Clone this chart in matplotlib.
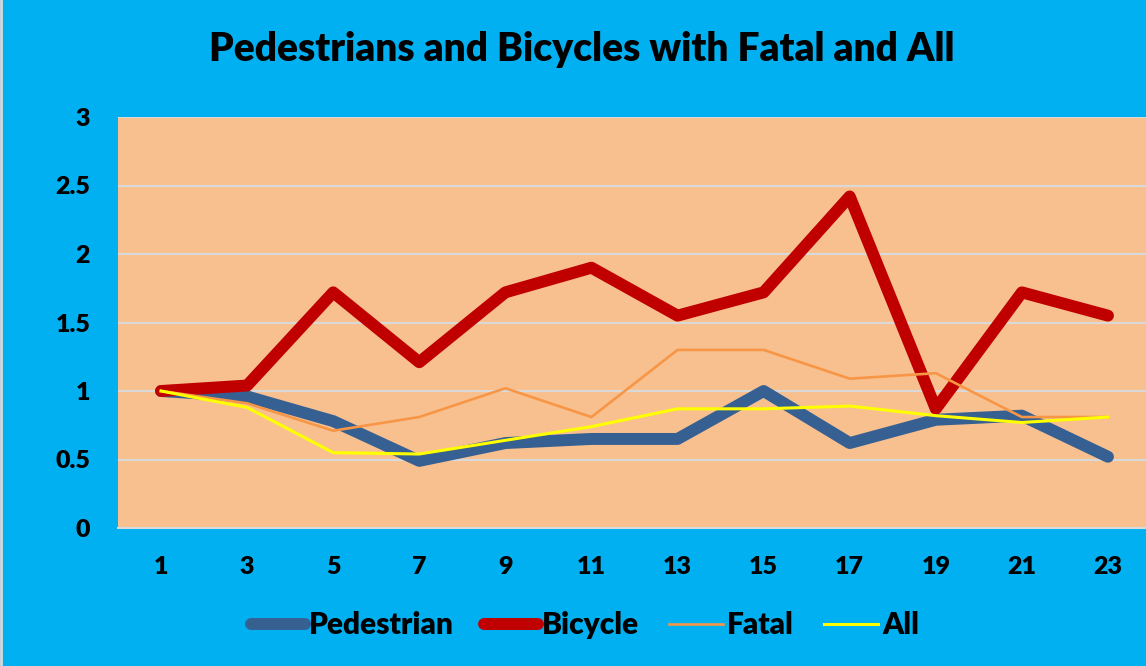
import numpy as np
import matplotlib
matplotlib.use("Agg")
from matplotlib import pyplot as plt

hours = ["1", "3", "5", "7", "9", "11", "13", "15", "17", "19", "21", "23"]
pedestrian = [1.0, 0.96, 0.78, 0.49, 0.62, 0.65, 0.65, 1.0, 0.62, 0.79, 0.82, 0.52]
bicycle = [1.0, 1.04, 1.72, 1.21, 1.72, 1.90, 1.55, 1.72, 2.42, 0.87, 1.72, 1.55]
fatal = [1.0, 0.91, 0.71, 0.81, 1.02, 0.81, 1.30, 1.30, 1.09, 1.13, 0.81, 0.81]
all_crashes = [1.0, 0.88, 0.55, 0.54, 0.64, 0.74, 0.87, 0.87, 0.89, 0.82, 0.77, 0.81]

plt.rcParams['font.family'] = ['Lato', 'DejaVu Sans']
plt.rcParams['font.weight'] = 'heavy'

fig = plt.figure(figsize=(11.46, 6.66), dpi=100, facecolor='#00B0F0')
ax = fig.add_axes([118/1146, 1-528/666, (1151-118)/1146, 411/666])
ax.set_facecolor('#F9C08F')

x = np.arange(len(hours))
ax.plot(x, pedestrian, color='#376092', lw=8.6, solid_capstyle='round',
        solid_joinstyle='round', label='Pedestrian')
ax.plot(x, bicycle, color='#C00000', lw=8.6, solid_capstyle='round',
        solid_joinstyle='round', label='Bicycle')
ax.plot(x, fatal, color='#F79646', lw=1.9, label='Fatal')
ax.plot(x, all_crashes, color='#FFFF00', lw=2.2, label='All')

ax.set_xlim(-0.5, len(hours) - 0.5)
ax.set_ylim(0, 3)
ax.set_yticks(np.arange(0, 3.01, 0.5))
ax.set_yticklabels(["0", "0.5", "1", "1.5", "2", "2.5", "3"], fontweight='heavy')
ax.set_xticks(x)
ax.set_xticklabels(hours, fontweight='heavy')
ax.grid(axis='y', color='#D9D9D9', lw=1.5)
ax.set_axisbelow(True)
for s in ['top', 'right', 'left']:
    ax.spines[s].set_visible(False)
ax.spines['bottom'].set_color('#D9D9D9')
ax.spines['bottom'].set_linewidth(1.5)
ax.tick_params(axis='both', length=0, labelsize=18)
ax.tick_params(axis='y', pad=20)
ax.tick_params(axis='x', pad=20)

fig.text(582/1146, 1-50/666, "Pedestrians and Bicycles with Fatal and All",
         ha='center', va='center', fontsize=28, fontweight='heavy')

leg = fig.legend(loc='center', bbox_to_anchor=(585/1146, 1-625/666), ncol=4,
                 frameon=False, fontsize=21.5, handlelength=1.8,
                 handletextpad=0.15, columnspacing=1.0,
                 prop={'weight': 'heavy', 'size': 21.5})

fig.add_artist(plt.Line2D([0.001, 0.001], [0, 1], color='#D9D9D9', lw=2))

plt.savefig('out.png', dpi=100, facecolor=fig.get_facecolor())
